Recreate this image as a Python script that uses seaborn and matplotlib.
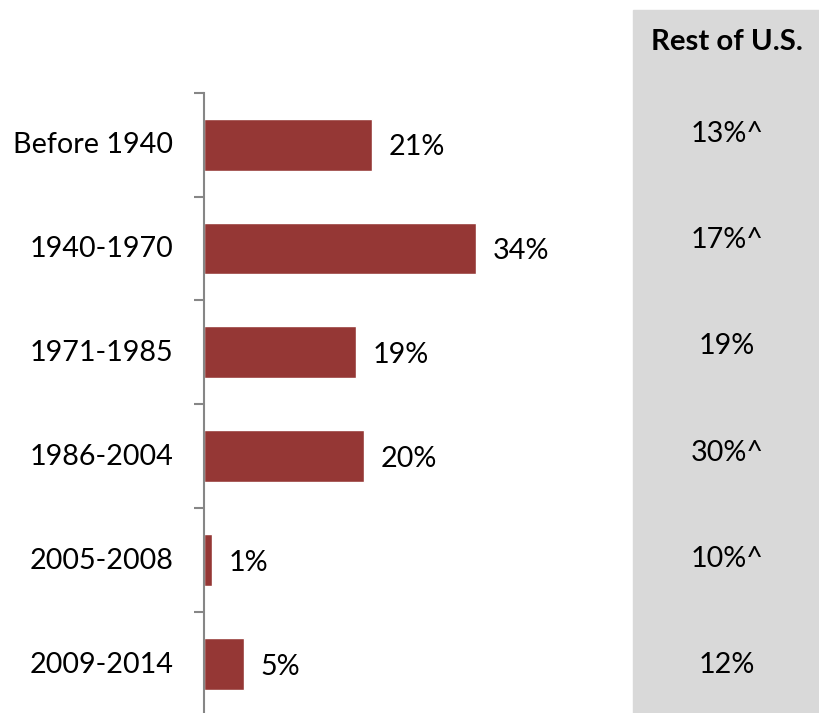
import matplotlib
matplotlib.use("Agg")
import matplotlib.pyplot as plt
from matplotlib.patches import Rectangle
import seaborn as sns
import pandas as pd
import numpy as np

periods = ["Before 1940", "1940-1970", "1971-1985", "1986-2004", "2005-2008", "2009-2014"]
region_share = [21, 34, 19, 20, 1, 5]
rest_of_us = [13, 17, 19, 30, 10, 12]
rest_flag = ["^", "^", "", "^", "^", ""]
rest_header = "Rest of U.S."

sns.set_theme(style="white")
plt.rcParams["font.family"] = ["Lato", "DejaVu Sans"]

W, H = 820, 713
FS = 20.7
PT = 72 / 100  # points per pixel at 100 dpi
fig = plt.figure(figsize=(W / 100, H / 100), dpi=100)

# grey comparison column on the right
fig.patches.append(Rectangle((633 / W, 0), 1 - 633 / W, (H - 10) / H,
                             transform=fig.transFigure, color="#D9D9D9", zorder=0))

ax_left, ax_top, ax_bottom = 204, 92.7, 716.0
ax_right = 633
ax = fig.add_axes([ax_left / W, (H - ax_bottom) / H, (ax_right - ax_left) / W,
                   (ax_bottom - ax_top) / H])
ax.patch.set_alpha(0)

df = pd.DataFrame({"period": periods, "share": region_share})
sns.barplot(data=df, y="period", x="share", orient="h", color="#953735",
            saturation=1, width=0.5, ax=ax)

ax.set_xlim(0, (ax_right - ax_left) / 8.0)
ax.set_ylim(5.5, -0.5)
ax.set_xlabel("")
ax.set_ylabel("")
ax.set_xticks([])
for s in ["top", "right", "bottom"]:
    ax.spines[s].set_visible(False)
ax.spines["left"].set_color("#868686")
ax.spines["left"].set_linewidth(1.5)

# category names drawn on a shared baseline, boundary ticks between bands
ax.tick_params(axis="y", which="major", left=False, length=0, labelleft=False)
ax.set_yticks(np.arange(-0.5, 6.0, 1.0), minor=True)
ax.tick_params(axis="y", which="minor", left=True, length=7, width=1.5,
               color="#868686", direction="out")

for i, name in enumerate(periods):
    ax.annotate(name, (0, i), xytext=(-30.6 * PT, -8.8 * PT), textcoords="offset points",
                va="baseline", ha="right", fontsize=FS, color="black")

for i, v in enumerate(region_share):
    ax.annotate(f"{v}%", (v, i), xytext=(16.5 * PT, -10.5 * PT), textcoords="offset points",
                va="baseline", ha="left", fontsize=FS, color="black")

# right-hand column labels
cx = 727 / W
fig.text(cx, (H - 50) / H, rest_header, ha="center", va="baseline",
         fontsize=21.2, fontweight="bold", color="black")
for i, (v, f) in enumerate(zip(rest_of_us, rest_flag)):
    y_px = 142.3 + 106.1 * i
    fig.text(cx, (H - y_px) / H, f"{v}%{f}", ha="center", va="baseline",
             fontsize=FS, color="black")

fig.savefig("out.png", dpi=100)
